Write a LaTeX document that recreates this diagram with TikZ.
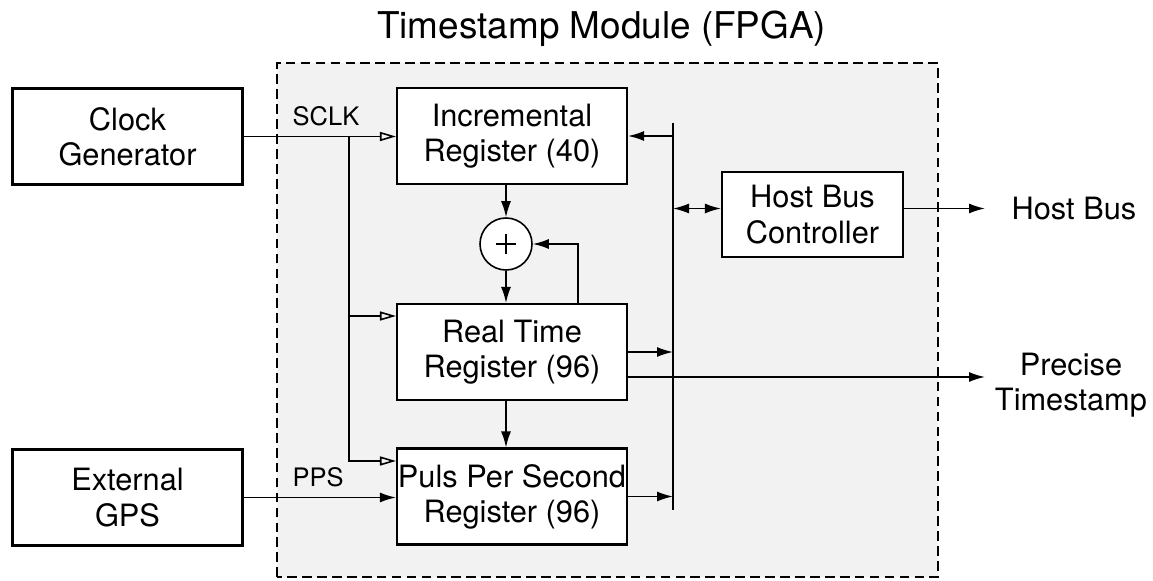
\documentclass[tikz,border=0pt]{standalone}
\usepackage{fontspec}
\setmainfont{TeX Gyre Heros}
\usetikzlibrary{arrows.meta}

\begin{document}
\begin{tikzpicture}[>={Latex[length=3.2mm,width=2mm]}, line width=0.9pt,
  block/.style={rectangle, draw, line width=1.2pt, fill=white, inner xsep=0pt, minimum width=4.6cm, minimum height=1.92cm, align=center, font=\fontsize{17.5}{20}\selectfont},
  clk/.style={-{Triangle[open,length=3.2mm,width=1.8mm]}},
  lbl/.style={font=\fontsize{14.5}{17}\selectfont},
  txt/.style={align=center, font=\fontsize{17.5}{20}\selectfont}]
  \useasboundingbox (0,0) rectangle (23.06,11.6);

  % Module frame
  \draw[dash pattern=on 5.5pt off 3pt, line width=1.1pt, fill=black!5] (5.54,0.06) rectangle (18.76,10.34);
  \node[font=\fontsize{21}{25}\selectfont] (title) at (12.03,11.02) {Timestamp Module (FPGA)};

  % Blocks
  \node[block] (clock) at (2.55,8.87) {Clock\\Generator};
  \node[block] (gps) at (2.55,1.65) {External\\GPS};
  \node[block] (inc) at (10.24,8.88) {Incremental\\Register (40)};
  \node[block] (rt) at (10.24,4.56) {Real Time\\Register (96)};
  \node[block] (pps) at (10.24,1.67) {Puls Per Second\\Register (96)};
  \node[block, minimum width=3.62cm, minimum height=1.7cm] (hbc) at (16.25,7.31) {Host Bus\\Controller};
  \node[circle, draw, fill=white, minimum size=1.04cm] (adder) at (10.12,6.72) {};
  \draw ([xshift=-2mm]adder.center) -- ([xshift=2mm]adder.center);
  \draw ([yshift=-2mm]adder.center) -- ([yshift=2mm]adder.center);

  \coordinate (split) at (6.98,8.88);
  \coordinate (bustop) at (13.46,9.14);
  \coordinate (busbot) at (13.46,1.4);
  \coordinate (hostbus) at (19.7,7.43);
  \coordinate (precise) at (19.7,4.06);

  % Clock and PPS inputs
  \draw[clk] (clock.east) -- (clock.east -| inc.west);
  \draw[clk] (split) |- ([yshift=7.2mm]rt.west);
  \draw[clk] (split) |- ([yshift=7.1mm]pps.west);
  \draw[->] (gps.east) -- (gps.east -| pps.west);
  \node[lbl] (sclk) at (6.52,9.28) {SCLK};
  \node[lbl] (ppslbl) at (6.36,2.06) {PPS};

  % Adder loop
  \draw[->] (inc.south -| adder) -- (adder.north);
  \draw[->] (adder.south) -- (adder.south |- rt.north);
  \draw[->] ([xshift=1.32cm]rt.north) |- (adder.east);
  \draw[->] (rt.south -| adder) -- (pps.north -| adder);

  % Internal bus
  \draw (bustop) -- (busbot);
  \draw[<-] (inc.east) -- (inc.east -| bustop);
  \draw[->] (rt.east) -- (rt.east -| bustop);
  \draw[->] (pps.east) -- (pps.east -| bustop);
  \draw[<->] (hostbus -| bustop) -- (hostbus -| hbc.west);

  % Outputs
  \draw[->] (hostbus -| hbc.east) -- (hostbus);
  \draw[->] ([yshift=-5mm]rt.east) -- (precise);
  \node[txt, anchor=west] (hostbuslbl) at (20.1,7.43) {Host Bus};
  \node[txt] (precisetxt) at (21.42,3.9) {Precise\\Timestamp};
\end{tikzpicture}
\end{document}
